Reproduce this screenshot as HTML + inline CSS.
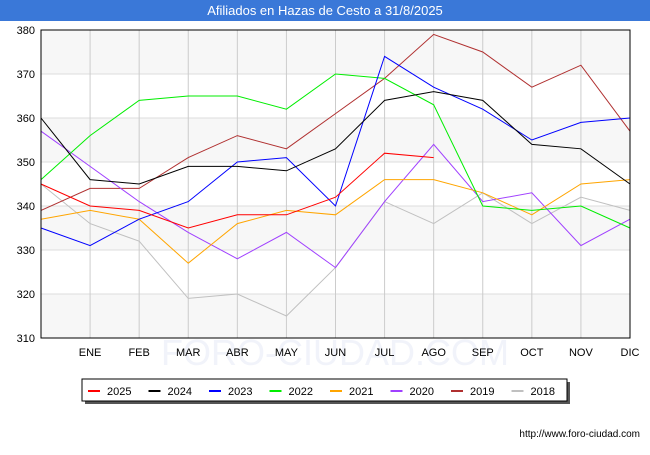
<!DOCTYPE html>
<html><head><meta charset="utf-8"><style>
body{margin:0;background:#fff;font-family:"Liberation Sans",sans-serif;}
</style></head><body>
<svg width="650" height="450" xmlns="http://www.w3.org/2000/svg" font-family="Liberation Sans, sans-serif">
<rect x="0" y="0" width="650" height="21" fill="#3a78d8"/>
<text x="325" y="15" text-anchor="middle" fill="#fff" font-size="13">Afiliados en Hazas de Cesto a 31/8/2025</text>
<g id="plot"></g>
<g id="legend"></g>
<text x="640" y="437" text-anchor="end" font-size="10" fill="#000">http://www.foro-ciudad.com</text>
</svg>
<script>
const months=["","ENE","FEB","MAR","ABR","MAY","JUN","JUL","AGO","SEP","OCT","NOV","DIC"];
const yTicks=[310,320,330,340,350,360,370,380];
const seriesNames=["2025","2024","2023","2022","2021","2020","2019","2018"];
const seriesColors=["#ff0000","#000000","#0000ff","#00ee00","#ffa500","#a040ff","#b03030","#c0c0c0"];
const s2025=[345,340,339,335,338,338,342,352,351];
const s2024=[360,346,345,349,349,348,353,364,366,364,354,353,345];
const s2023=[335,331,337,341,350,351,340,374,367,362,355,359,360];
const s2022=[346,356,364,365,365,362,370,369,363,340,339,340,335];
const s2021=[337,339,337,327,336,339,338,346,346,343,338,345,346];
const s2020=[357,349,341,334,328,334,326,341,354,341,343,331,337];
const s2019=[339,344,344,351,356,353,361,369,379,375,367,372,357];
const s2018=[345,336,332,319,320,315,326,341,336,343,336,342,339];
const allSeries=[s2025,s2024,s2023,s2022,s2021,s2020,s2019,s2018];
const NS="http://www.w3.org/2000/svg";
const L=41,R=630,T=30,B=338,ymin=310,ymax=380;
const xs=i=>L+(R-L)*i/12;
const ys=v=>B-(v-ymin)/(ymax-ymin)*(B-T);
const plot=document.getElementById('plot');
function mk(tag,attrs,parent){const e=document.createElementNS(NS,tag);for(const k in attrs)e.setAttribute(k,attrs[k]);parent.appendChild(e);return e;}
const bg=mk('rect',{x:L,y:T,width:R-L,height:B-T,fill:'#fff'},plot);


for(let i=0;i<yTicks.length-1;i++){
  if(i%2===0){const band=mk('rect',{x:L,y:ys(yTicks[i+1]),width:R-L,height:ys(yTicks[i])-ys(yTicks[i+1]),fill:'#f7f7f7'},plot);
  
  }
}
yTicks.forEach(v=>{
  const g=mk('line',{x1:L,x2:R,y1:ys(v),y2:ys(v),stroke:'#dddddd'},plot);
  
  
  const t=mk('text',{x:L-6,y:ys(v)+4,'text-anchor':'end','font-size':11,fill:'#000'},plot);
  t.textContent=v;
  
  
});
months.forEach((m,i)=>{
  if(i===0)return;
  const g=mk('line',{x1:xs(i),x2:xs(i),y1:T,y2:B,stroke:'#cccccc'},plot);
  
  
});
const wm=mk('text',{x:335,y:365,'text-anchor':'middle','font-size':36,fill:'#f1f3fa'},plot);
wm.textContent="FORO-CIUDAD.COM";


months.forEach((m,i)=>{
  if(i===0)return;
  const t=mk('text',{x:xs(i),y:B+18,'text-anchor':'middle','font-size':11,fill:'#000'},plot);
  t.textContent=m;
  
  
});
for(let s=allSeries.length-1;s>=0;s--){
  const pts=allSeries[s].map((v,i)=>xs(i)+','+ys(v)).join(' ');
  const p=mk('polyline',{points:pts,fill:'none',stroke:seriesColors[s],'stroke-width':1},plot);
  
  
}
const fr=mk('rect',{x:L,y:T,width:R-L,height:B-T,fill:'none',stroke:'#000'},plot);


const lg=document.getElementById('legend');
const sh=mk('rect',{x:85,y:382,width:485,height:22,fill:'#555'},lg);


const lb=mk('rect',{x:82,y:379,width:485,height:22,fill:'#fff',stroke:'#000'},lg);


seriesNames.forEach((n,i)=>{
  const x0=88+i*60.5;
  const ln=mk('line',{x1:x0,x2:x0+12,y1:391,y2:391,stroke:seriesColors[i],'stroke-width':2},lg);
  
  
  const t=mk('text',{x:x0+19,y:395,'font-size':11,fill:'#000'},lg);
  t.textContent=n;
  
  
});
</script>
</body></html>
